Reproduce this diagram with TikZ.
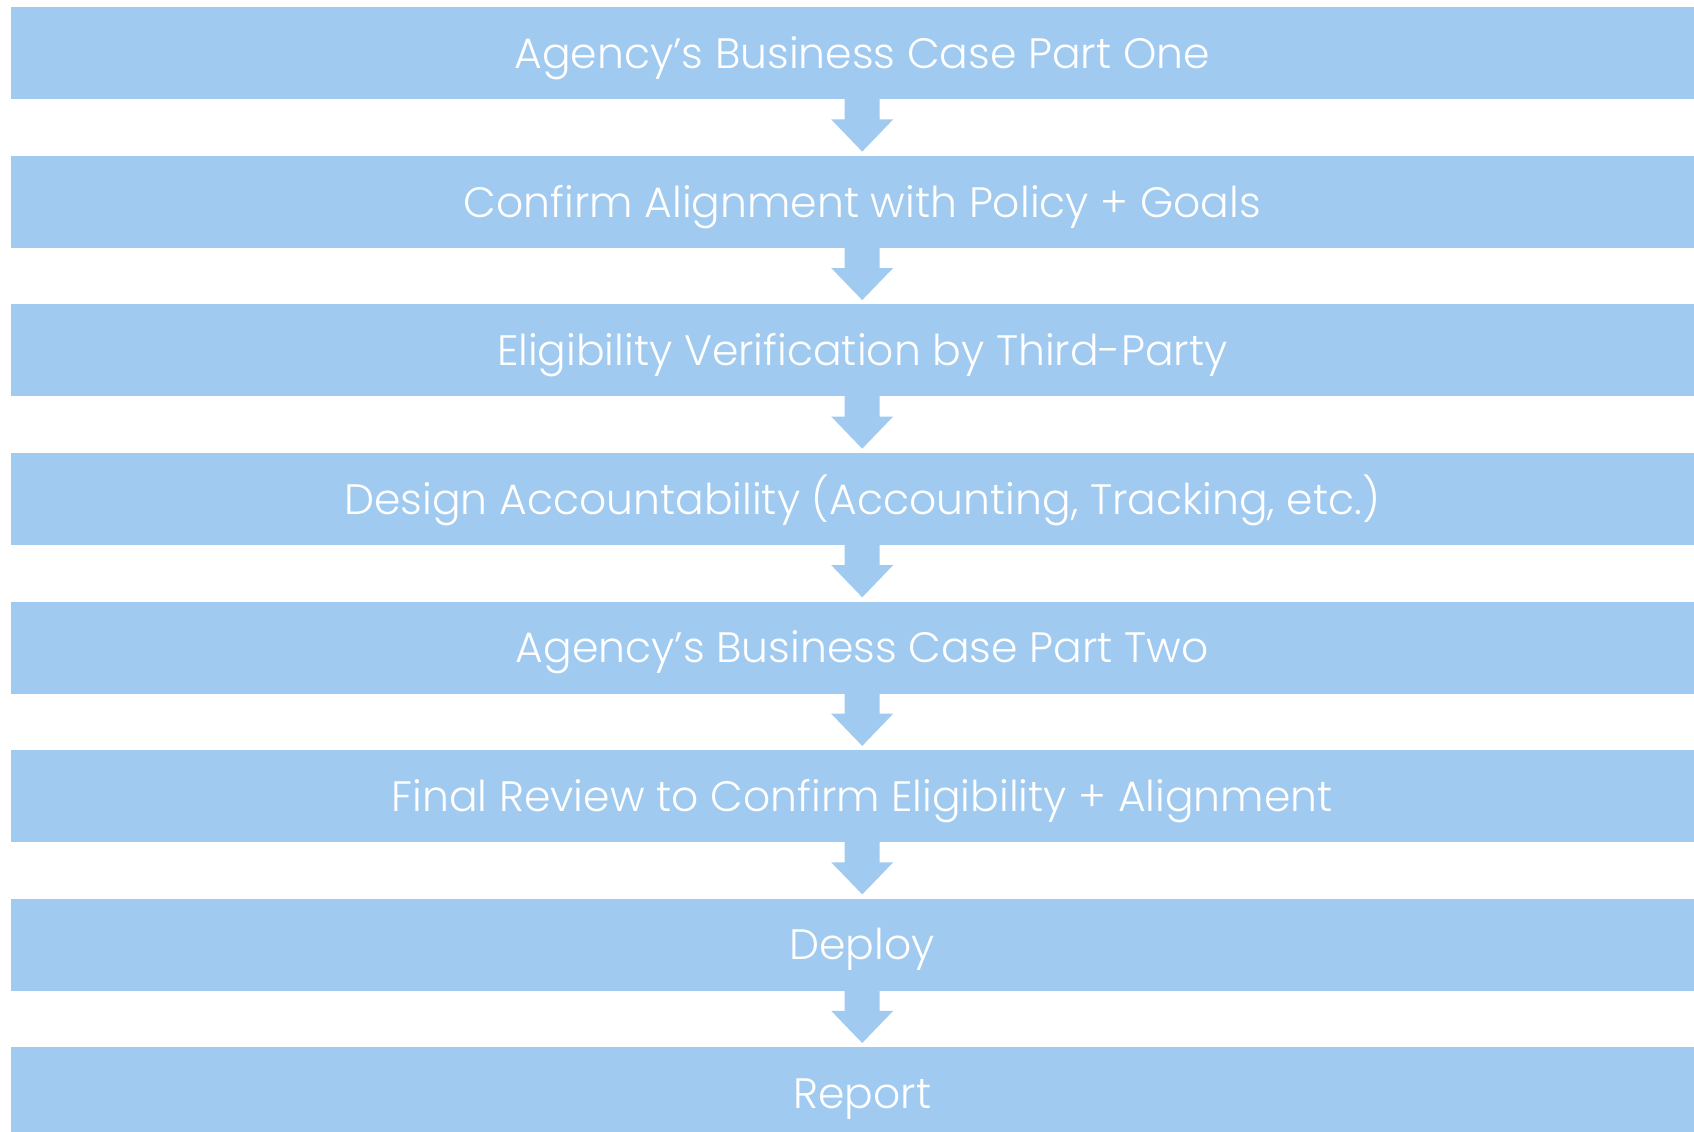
\documentclass[tikz,border=0pt]{standalone}
\usepackage{fontspec}
\setmainfont{Poppins Light}
\usetikzlibrary{calc}
\definecolor{barblue}{RGB}{160,202,240}
\begin{document}
\begin{tikzpicture}[x=1pt,y=-1pt,
  bar/.style={fill=barblue, minimum width=1702pt, minimum height=92pt, inner sep=0pt,
    anchor=north west, text=white, font=\fontsize{42.5}{50}\selectfont, text height=30.5pt, text depth=0pt},
  arr/.style={fill=barblue}]
\useasboundingbox (0,0) rectangle (1694,1132);
\clip (0,0) rectangle (1694,1132);
\node[bar] (b1) at (11,7) {Agency’s Business Case Part One};
\node[bar] (b2) at (11,155.6) {Confirm Alignment with Policy + Goals};
\node[bar] (b3) at (11,304.1) {Eligibility Verification by Third-Party};
\node[bar] (b4) at (11,452.7) {Design Accountability (Accounting, Tracking, etc.)};
\node[bar] (b5) at (11,601.3) {Agency’s Business Case Part Two};
\node[bar] (b6) at (11,749.9) {Final Review to Confirm Eligibility + Alignment};
\node[bar] (b7) at (11,898.4) {Deploy};
\node[bar] (b8) at (11,1047) {Report};
\foreach \a/\b in {b1/b2,b2/b3,b3/b4,b4/b5,b5/b6,b6/b7,b7/b8}{
  \path (\a.south) coordinate (s) (\b.north) coordinate (n);
  \fill[arr] ($(s)+(-17.5,-1)$) -- ($(s)+(-17.5,20)$) -- ($(s)+(-31,20)$) -- ($(n)+(0,-4)$)
    -- ($(s)+(31,20)$) -- ($(s)+(17.5,20)$) -- ($(s)+(17.5,-1)$) -- cycle;
}
\end{tikzpicture}
\end{document}
